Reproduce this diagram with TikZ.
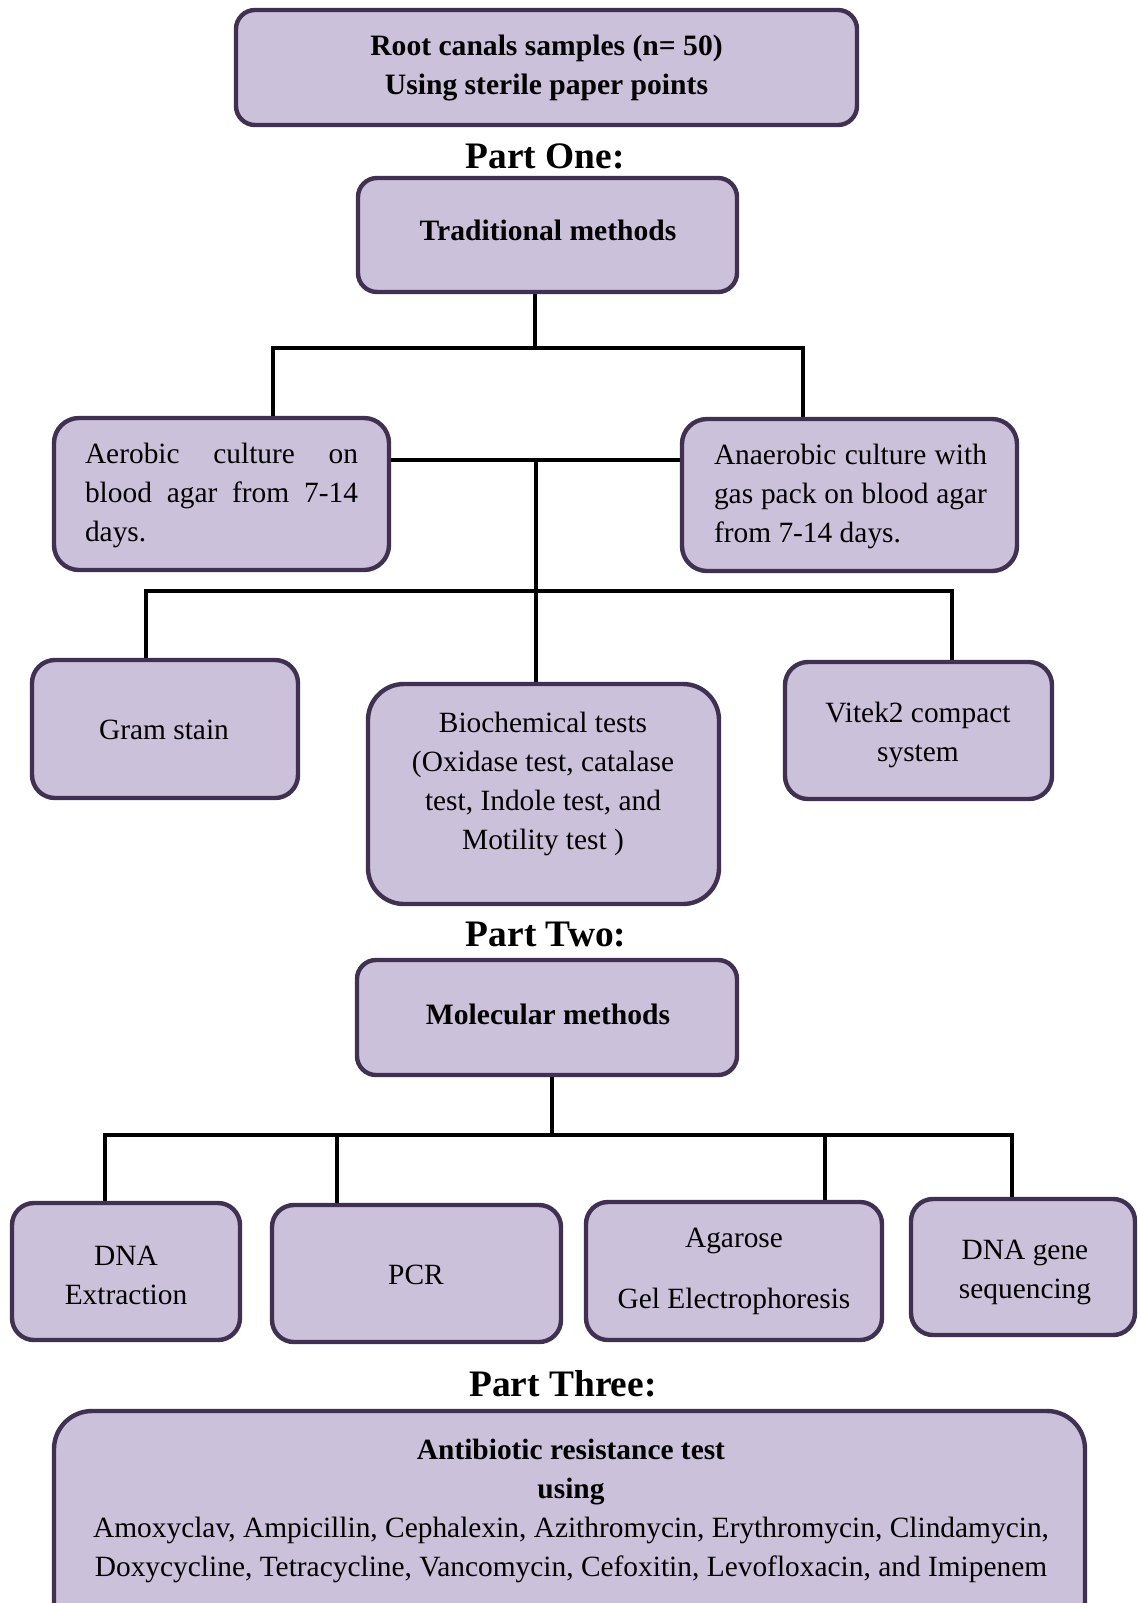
\documentclass[tikz,border=0pt]{standalone}
\usepackage{fontspec}
\setmainfont{Liberation Serif}
\definecolor{boxfill}{HTML}{CCC1DA}
\definecolor{boxline}{HTML}{403152}
\begin{document}
\begin{tikzpicture}[x=0.5pt,y=-0.5pt,
  box/.style={draw=boxline, fill=boxfill, line width=2.2pt, rounded corners=#1, inner sep=0pt},
  box/.default=10pt,
  txt/.style={font=\fontsize{14.7}{19.5}\selectfont, align=center, inner sep=0pt, text=black},
  btxt/.style={font=\fontsize{14.8}{19.5}\selectfont\bfseries, align=center, inner sep=0pt, text=black},
  part/.style={font=\fontsize{18.7}{22}\selectfont\bfseries, inner sep=0pt},
  conn/.style={draw=black, line width=2pt}]
\useasboundingbox (0,0) rectangle (1137,1603);
\fill[white] (0,0) rectangle (1137,1603);

% ---------- junction points ----------
\coordinate (j1) at (535,348);
\coordinate (hL) at (273,348);
\coordinate (hR) at (803,348);
\coordinate (m1) at (536,460);
\coordinate (g1) at (146,591);
\coordinate (v1) at (952,591);
\coordinate (j2) at (552,1135);
\coordinate (d1) at (105,1135);
\coordinate (d2) at (337,1135);
\coordinate (d3) at (825,1135);
\coordinate (d4) at (1012,1135);

% ---------- boxes ----------
\node[box=9.5pt, minimum width=310.5pt, minimum height=57.5pt] (top) at (546.5,67.5) {};
\node[btxt] (top-t) at (546.5,67.5) {Root canals samples (n= 50)\\Using sterile paper points};

\node[part] (p1) at (545,156) {Part One:};

\node[box=9.5pt, minimum width=189.5pt, minimum height=57pt] (trad) at (547.5,235) {};
\node[btxt] (trad-t) at (548,230) {Traditional methods};

\node[box=12.5pt, minimum width=167.5pt, minimum height=76pt] (aer) at (221.5,494) {};
\node[txt, align=left] (aer-t) at (221.5,495) {\makebox[136.5pt][s]{Aerobic culture on}\\\makebox[136.5pt][s]{blood agar from 7-14}\\days.};

\node[box=12.5pt, minimum width=167.5pt, minimum height=76pt] (anaer) at (849.5,495) {};
\node[txt, align=left] (anaer-t) at (850.5,496) {\makebox[136.5pt][s]{Anaerobic culture with}\\\makebox[136.5pt][s]{gas pack on blood agar}\\from 7-14 days.};

\node[box=11.5pt, minimum width=133pt, minimum height=69pt] (gram) at (165,729) {};
\node[txt] (gram-t) at (164,730) {Gram stain};

\node[box=18pt, minimum width=175.5pt, minimum height=110pt] (bio) at (543.5,794) {};
\node[txt] (bio-t) at (543,784) {Biochemical tests\\(Oxidase test, catalase\\test, Indole test, and\\Motility test )};

\node[box=11.5pt, minimum width=133.5pt, minimum height=68.5pt] (vitek) at (918.5,730.5) {};
\node[txt] (vitek-t) at (918,735) {Vitek2 compact\\system};

\node[part] (p2) at (546,935) {Part Two:};

\node[box=9.5pt, minimum width=190pt, minimum height=57.5pt] (mol) at (547,1017.5) {};
\node[btxt] (mol-t) at (548,1014) {Molecular methods};

\node[box=11pt, minimum width=114pt, minimum height=68.5pt] (dnaext) at (126,1271.5) {};
\node[txt] (dnaext-t) at (126,1275) {DNA\\Extraction};

\node[box=11pt, minimum width=144.5pt, minimum height=68.5pt] (pcr) at (416.5,1273.5) {};
\node[txt] (pcr-t) at (416,1275) {PCR};

\node[box=11pt, minimum width=148pt, minimum height=69pt] (aga) at (734,1271) {};
\node[txt] (aga-t) at (734,1271) {Agarose\\[11pt]Gel Electrophoresis};

\node[box=11pt, minimum width=112pt, minimum height=68pt] (seq) at (1023,1267) {};
\node[txt] (seq-t) at (1025,1272) {DNA gene\\sequencing};

\node[part] (p3) at (563,1384) {Part Three:};

\node[box=19pt, minimum width=515.5pt, minimum height=114.5pt] (anti) at (569.5,1525.5) {};
\node[txt] (anti-t) at (571,1511) {\textbf{Antibiotic resistance test}\\\textbf{using}\\Amoxyclav, Ampicillin, Cephalexin, Azithromycin, Erythromycin, Clindamycin,\\Doxycycline, Tetracycline, Vancomycin, Cefoxitin, Levofloxacin, and Imipenem};

% ---------- connectors ----------
\draw[conn] (trad.south -| j1) -- (j1);
\draw[conn] (aer.north -| hL) -- (hL) -- (hR) -- (anaer.north -| hR);
\draw[conn] (aer.east |- m1) -- (anaer.west |- m1);
\draw[conn] (m1) -- (bio.north -| m1);
\draw[conn] (gram.north -| g1) -- (g1) -- (v1) -- (vitek.north -| v1);
\draw[conn] (mol.south -| j2) -- (j2);
\draw[conn] (dnaext.north -| d1) -- (d1) -- (d4) -- (seq.north -| d4);
\draw[conn] (d2) -- (pcr.north -| d2);
\draw[conn] (d3) -- (aga.north -| d3);
\end{tikzpicture}
\end{document}
